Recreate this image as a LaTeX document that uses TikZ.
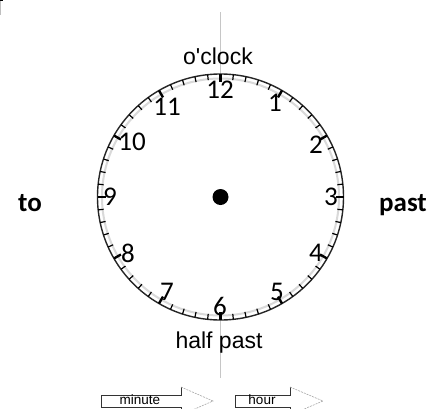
\documentclass[tikz,border=0pt]{standalone}
\usepackage{fontspec}
\usetikzlibrary{calc}
\setmainfont{Liberation Sans}[Ligatures=TeXOff]
\newfontfamily\calib{Carlito}
\begin{document}
\begin{tikzpicture}[x=1pt,y=-1pt,
  num/.style={font=\calib\fontsize{27}{27}\selectfont, inner sep=0pt},
  side/.style={font=\calib\bfseries\fontsize{27}{27}\selectfont, inner sep=0pt},
  lbl/.style={font=\fontsize{23}{23}\selectfont, inner sep=0pt},
  small/.style={font=\fontsize{13.5}{13.5}\selectfont, inner sep=0pt},
  body/.style={draw=black!80, line width=0.8pt},
  head/.style={draw=gray!70, line width=0.6pt, dash pattern=on 2pt off 1pt}]
\useasboundingbox (0,0) rectangle (445,408);
\clip (0,0) rectangle (445,408);
% corner mark
\draw[gray!50, line width=0.8pt] (0.5,0) -- (0.5,15);
\fill[black] (0,0) rectangle (2.5,1.2);
% vertical guide line
\coordinate (vtop) at (220.5,12);
\coordinate (vbot) at (220.5,378);
\draw[gray!45, line width=0.8pt] (vtop) -- (vbot);
% clock face
\coordinate (c) at (220.5,197);
\fill[white] (c) circle (123);
\draw[gray!30, line width=2pt] (c) circle (118.5);
\draw[black!85, line width=1.4pt] (c) circle (123);
\foreach \i in {0,...,59}{
  \pgfmathsetmacro{\a}{90-6*\i}
  \pgfmathtruncatemacro{\h}{mod(\i,5)}
  \ifnum\h=0
    \draw[black, line width=2.4pt] ($(c)+({123*cos(\a)},{-123*sin(\a)})$) -- ($(c)+({115*cos(\a)},{-115*sin(\a)})$);
  \else
    \draw[black, line width=1.2pt] ($(c)+({123*cos(\a)},{-123*sin(\a)})$) -- ($(c)+({117.5*cos(\a)},{-117.5*sin(\a)})$);
  \fi
}
\fill[black] (c) circle (8);
% numbers
\node[num] (n12) at (220,90) {12};
\node[num] (n1) at (275,103) {1};
\node[num] (n2) at (316,145) {2};
\node[num] (n3) at (331,197) {3};
\node[num] (n4) at (316,253) {4};
\node[num] (n5) at (277,292) {5};
\node[num] (n6) at (220,306) {6};
\node[num] (n7) at (167,292) {7};
\node[num] (n8) at (128,253) {8};
\node[num] (n9) at (110,197) {9};
\node[num] (n10) at (132,142) {10};
\node[num] (n11) at (167,107) {11};
% labels
\node[lbl] (oclock) at (218,56) {o'clock};
\node[lbl] (half) at (219,343) {half past};
\node[side] (to) at (30,203) {to};
\node[side] (past) at (403,205) {past};
% minute arrow
\draw[body] (181,387) -- (181,395) -- (101,395) -- (101,407.5) -- (181,407.5) -- (181,415);
\draw[head] (181,387) -- (213,401) -- (181,415);
\node[small] (minute) at (140,400) {minute};
% hour arrow
\draw[body] (290,387) -- (290,395) -- (235,395) -- (235,407.5) -- (290,407.5) -- (290,415);
\draw[head] (290,387) -- (323,401) -- (290,415);
\node[small] (hour) at (262,400) {hour};
\end{tikzpicture}
\end{document}
